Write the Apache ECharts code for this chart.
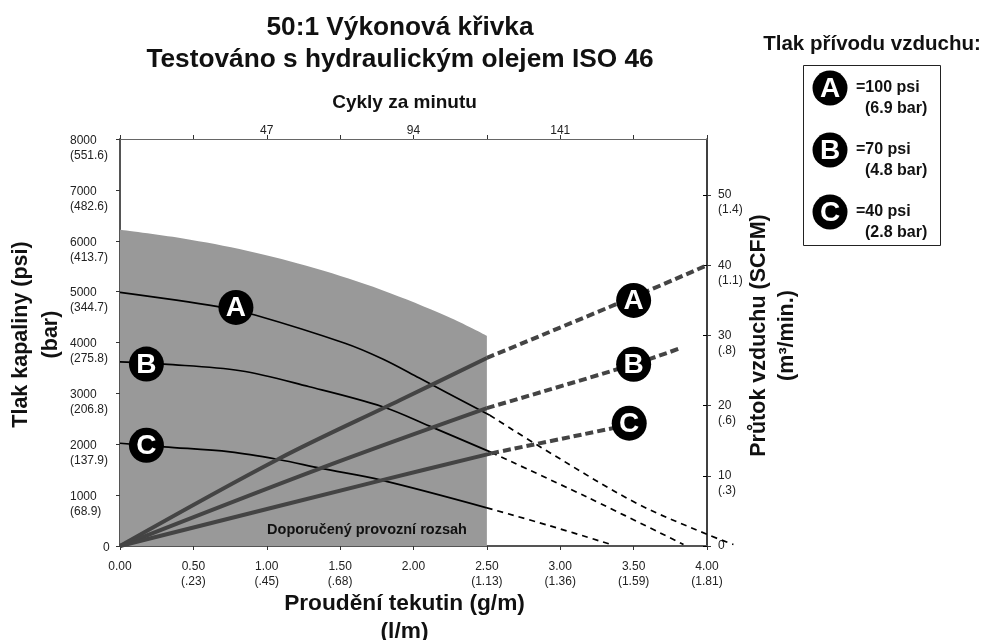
<!DOCTYPE html>
<html><head><meta charset="utf-8">
<style>html,body{margin:0;padding:0;background:#fff}#c{width:986px;height:640px}</style>
<script src="https://cdn.jsdelivr.net/npm/echarts@6/dist/echarts.min.js"></script>
</head><body><div id="c"></div>
<script>
const FONT = '"Liberation Sans", Arial, sans-serif';
// Axis ticks and second-unit labels
const flowTicks = [0, 0.5, 1, 1.5, 2, 2.5, 3, 3.5, 4];
const flowLpm = ['', '(.23)', '(.45)', '(.68)', '', '(1.13)', '(1.36)', '(1.59)', '(1.81)'];
const pressTicks = [0, 1000, 2000, 3000, 4000, 5000, 6000, 7000, 8000];
const pressBar = ['', '(68.9)', '(137.9)', '(206.8)', '(275.8)', '(344.7)', '(413.7)', '(482.6)', '(551.6)'];
const airTicks = [0, 10, 20, 30, 40, 50];
const airM3 = ['', '(.3)', '(.6)', '(.8)', '(1.1)', '(1.4)'];
const cycleLabels = [47, 94, 141];
// Recommended range outline: [flow, psi]
const rangeEnv = [[0,6215],[0.42,6048],[0.872,5798],[1.329,5458],[1.783,5032],[2.235,4507],[2.5,4133]];
// Fluid pressure curves: [flow, psi]
const fluidA = [[0,4985],[0.668,4704],[0.92,4541],[1.533,3985],[1.79,3675],[2.04,3300],[2.52,2570]];
const fluidADash = [[2.52,2570],[2.88,1920],[3.52,840],[4.0,230],[4.18,30]];
const fluidB = [[0,3620],[0.3,3575],[0.82,3445],[1.29,3130],[1.79,2737],[2.11,2356],[2.53,1840]];
const fluidBDash = [[2.53,1840],[3.18,965],[3.84,30]];
const fluidC = [[0,2020],[0.3,1950],[0.75,1850],[1.08,1700],[1.37,1525],[1.78,1295],[2.5,750]];
const fluidCDash = [[2.5,750],[2.92,405],[3.34,35]];
// Air consumption curves: [flow, SCFM]
const airA = [[0,0],[1.08,12.4],[1.91,20.8],[2.5,26.8]];
const airADash = [[2.5,26.8],[3.5,35.5],[4.0,40]];
const airB = [[0,0],[1.37,11.1],[2.5,19.65]];
const airBDash = [[2.5,19.65],[3.5,25.9],[3.82,28.2]];
const airC = [[0,0],[1.78,9.36],[2.53,13.2]];
const airCDash = [[2.53,13.2],[3.36,16.8]];
// Circled letters: [flow, value, letter]
const fluidMarks = [[0.79,4690,'A'],[0.18,3575,'B'],[0.18,1980,'C']];
const airMarks = [[3.5,35,'A'],[3.5,25.9,'B'],[3.47,17.5,'C']];
const legendRows = [['A','=100 psi','(6.9 bar)'],['B','=70 psi','(4.8 bar)'],['C','=40 psi','(2.8 bar)']];

const labelBase = {fontFamily: FONT, fontSize: 12, color: '#222', lineHeight: 15};
const tickStyle = {show: true, length: 4, lineStyle: {color: '#333', width: 1}};
const nameStyle = (s, lh, pad) => ({fontFamily: FONT, fontWeight: 'bold', fontSize: s, color: '#111', lineHeight: lh, padding: pad});

function line(data, yIdx, color, width, dash, z) {
  return {type: 'line', data, yAxisIndex: yIdx, xAxisIndex: 0, smooth: 0.35, symbol: 'none',
    clip: false, z, lineStyle: {color, width, type: dash || 'solid', cap: 'butt'}, silent: true};
}
// This dashed tail runs past the right axis, so it must not use the grid clip of a line series
function unclippedDash(data, yIdx, color, width, dash, z) {
  return {type: 'custom', coordinateSystem: 'cartesian2d', xAxisIndex: 0, yAxisIndex: yIdx, data, z, silent: true, clip: false,
    encode: {x: 0, y: 1},
    renderItem: (params, api) => params.dataIndex !== 0 ? null : ({
      type: 'polyline',
      shape: {points: data.map(d => api.coord(d)), smooth: 0.35},
      style: {stroke: color, lineWidth: width, lineDash: dash, fill: null}
    })};
}
function marks(data, yIdx) {
  return {type: 'scatter', data, yAxisIndex: yIdx, xAxisIndex: 0, symbol: 'circle', symbolSize: 35, clip: false, z: 10, silent: true,
    itemStyle: {color: '#000', opacity: 1},
    label: {show: true, position: 'inside', offset: [0,1], formatter: p => p.data[2], color: '#fff', fontFamily: FONT, fontWeight: 'bold', fontSize: 28}};
}
const legendEls = [
  {type: 'rect', z: 20, shape: {x: 803.5, y: 65.5, width: 137, height: 180}, style: {fill: '#fff', stroke: '#222', lineWidth: 1}},
  {type: 'text', z: 20, x: 872, y: 44, style: {text: 'Tlak přívodu vzduchu:', font: 'bold 20.5px ' + FONT, fill: '#111', align: 'center', verticalAlign: 'middle'}}
];
legendRows.forEach((r, i) => {
  const cy = 88 + i * 62;
  legendEls.push({type: 'circle', z: 21, shape: {cx: 830, cy, r: 17.5}, style: {fill: '#000'}});
  legendEls.push({type: 'text', z: 22, x: 830, y: cy + 1, style: {text: r[0], font: 'bold 28px ' + FONT, fill: '#fff', align: 'center', verticalAlign: 'middle'}});
  legendEls.push({type: 'text', z: 22, x: 856, y: cy, style: {text: r[1], font: 'bold 16px ' + FONT, fill: '#111', verticalAlign: 'middle'}});
  legendEls.push({type: 'text', z: 22, x: 865, y: cy + 21, style: {text: r[2], font: 'bold 16px ' + FONT, fill: '#111', verticalAlign: 'middle'}});
});
legendEls.push({type: 'text', z: 20, x: 367, y: 530, style: {text: 'Doporučený provozní rozsah', font: 'bold 14.5px ' + FONT, fill: '#111', align: 'center', verticalAlign: 'middle'}});

const chart = echarts.init(document.getElementById('c'), null, {renderer: 'canvas'});
chart.setOption({
  animation: false,
  backgroundColor: '#fff',
  title: {text: '50:1 Výkonová křivka\nTestováno s hydraulickým olejem ISO 46', left: 395, top: 7, textAlign: 'center',
    textStyle: {fontFamily: FONT, fontWeight: 'bold', fontSize: 26.25, color: '#111', lineHeight: 32}},
  grid: {left: 120, right: 279, top: 139, bottom: 94, containLabel: false, outerBoundsMode: 'none'},
  xAxis: [
    {type: 'value', position: 'bottom', min: 0, max: 4, interval: 0.5, splitLine: {show: false},
     axisLine: {onZero: false, lineStyle: {color: '#555', width: 2}}, axisTick: tickStyle,
     axisLabel: {...labelBase, margin: 13, hideOverlap: false, showMaxLabel: true, showMinLabel: true,
       formatter: v => { const i = flowTicks.indexOf(v); const s = v.toFixed(2); return flowLpm[i] ? s + '\n' + flowLpm[i] : s; }},
     name: 'Proudění tekutin (g/m)\n(l/m)', nameLocation: 'middle', nameMoveOverlap: false, nameGap: 44, nameTextStyle: nameStyle(22.7, 28, [0,18,0,0])},
    {type: 'value', position: 'top', min: 0, max: 188, interval: 23.5, splitLine: {show: false},
     axisLine: {onZero: false, lineStyle: {color: '#666', width: 1}}, axisTick: tickStyle,
     axisLabel: {...labelBase, margin: 1, formatter: v => cycleLabels.includes(v) ? String(v) : ''},
     name: 'Cykly za minutu', nameLocation: 'middle', nameMoveOverlap: false, nameGap: 22, nameTextStyle: nameStyle(19, 28, [0,18,0,0])}
  ],
  yAxis: [
    {type: 'value', position: 'left', min: 0, max: 8000, interval: 1000, splitLine: {show: false},
     axisLine: {onZero: false, lineStyle: {color: '#555', width: 2}}, axisTick: tickStyle,
     axisLabel: {...labelBase, align: 'left', margin: 50, padding: [3,0,0,0], rich: {z: {fontFamily: FONT, fontSize: 12, color: '#222', padding: [0,0,0,33]}},
       formatter: v => { const i = pressTicks.indexOf(v); return pressBar[i] ? '\n' + v + '\n' + pressBar[i] : '{z|0}'; }},
     name: 'Tlak kapaliny (psi)\n(bar)', nameLocation: 'middle', nameMoveOverlap: false, nameGap: 54, nameTextStyle: nameStyle(21.5, 30, [0,0,0,16])},
    {type: 'value', position: 'right', min: 0, max: 58, splitLine: {show: false},
     axisLine: {onZero: false, lineStyle: {color: '#000', width: 1.5}},
     axisTick: {...tickStyle, customValues: airTicks},
     axisLabel: {...labelBase, margin: 11, align: 'left', padding: [3,0,0,0], customValues: airTicks,
       formatter: v => { const i = airTicks.indexOf(v); return airM3[i] ? '\n' + v + '\n' + airM3[i] : String(v); }},
     name: 'Průtok vzduchu (SCFM)\n(m³/min.)', nameLocation: 'middle', nameMoveOverlap: false, nameRotate: 90, nameGap: 38, nameTextStyle: nameStyle(21.5, 28, [0,0,0,14])},
    {type: 'value', position: 'right', min: 0, max: 58, splitLine: {show: false}, axisLine: {show: false, onZero: false},
     axisTick: {show: true, inside: true, length: 4, lineStyle: {color: '#000', width: 1}, customValues: airTicks},
     axisLabel: {show: false}}
  ],
  series: [
    {type: 'line', data: rangeEnv, xAxisIndex: 0, yAxisIndex: 0, smooth: 0.35, symbol: 'none', z: 1, silent: true,
     lineStyle: {width: 0}, areaStyle: {color: '#999', opacity: 1}},
    line(fluidA, 0, '#000', 1.7, null, 3), line(fluidB, 0, '#000', 1.7, null, 3), line(fluidC, 0, '#000', 1.7, null, 3),
    unclippedDash(fluidADash, 0, '#000', 1.7, [6,5], 3), line(fluidBDash, 0, '#000', 1.7, [6,5], 3), line(fluidCDash, 0, '#000', 1.7, [6,5], 3),
    line(airA, 1, '#444', 4, null, 4), line(airB, 1, '#444', 4, null, 4), line(airC, 1, '#444', 4, null, 4),
    line(airADash, 1, '#444', 4, [8,4], 4), line(airBDash, 1, '#444', 4, [8,4], 4), line(airCDash, 1, '#444', 4, [8,4], 4),
    marks(fluidMarks, 0), marks(airMarks, 1)
  ],
  graphic: {elements: legendEls}
});
</script></body></html>
